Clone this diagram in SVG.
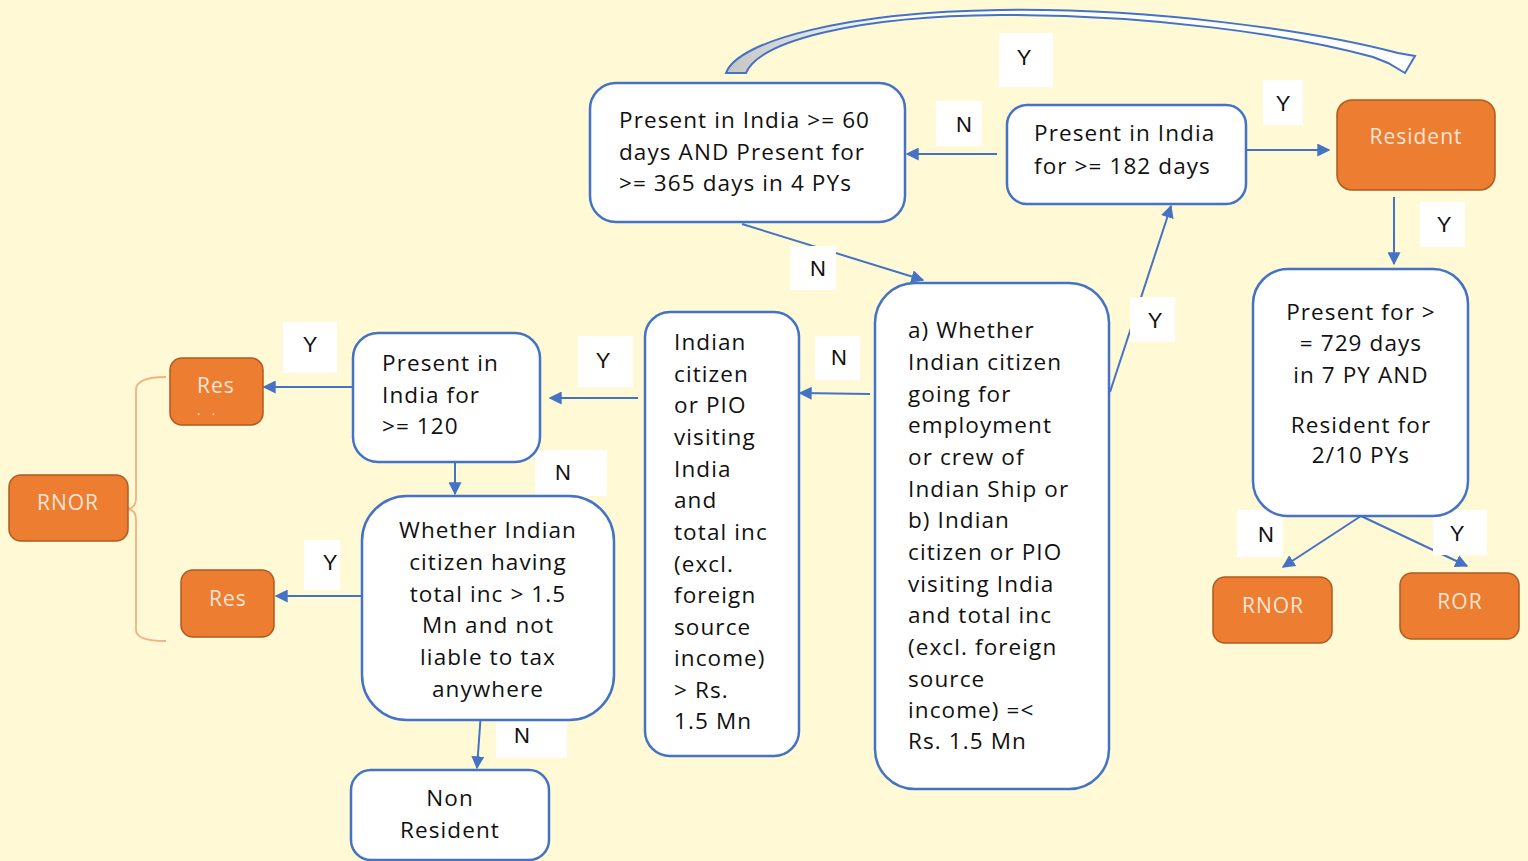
<svg xmlns="http://www.w3.org/2000/svg" width="1528" height="861" viewBox="0 0 1528 861">
<style>
.bg{fill:#FFF9D5}
.box{fill:#FFFFFF;stroke:#4472C4;stroke-width:2.5}
.org{fill:#ED7D31;stroke:#AE5A21;stroke-width:1.5}
.t{font-family:"Open Sans","DejaVu Sans",sans-serif;font-size:22.5px;letter-spacing:1.1px;fill:#111111}
.c{text-anchor:middle}
.ot{font-family:"Open Sans","DejaVu Sans",sans-serif;font-size:21px;letter-spacing:1px;fill:#FBE5D6;text-anchor:middle}
.lb{fill:#FFFFFF}
.lt{font-family:"Liberation Sans",Arial,sans-serif;font-size:22px;fill:#111;text-anchor:middle}
.cn{fill:none;stroke:#4472C4;stroke-width:2;marker-end:url(#ah)}
</style>
<defs>
<marker id="ah" viewBox="0 0 10 10" refX="9" refY="5" markerWidth="6.5" markerHeight="6.5" markerUnits="strokeWidth" orient="auto">
<path d="M0,0 L10,5 L0,10 z" fill="#4472C4"/>
</marker>
<linearGradient id="cg" x1="726" y1="0" x2="1416" y2="0" gradientUnits="userSpaceOnUse">
<stop offset="0" stop-color="#C4C4C4"/>
<stop offset="0.25" stop-color="#FFFFFF"/>
<stop offset="1" stop-color="#FFFFFF"/>
</linearGradient>
</defs>
<rect class="bg" x="0" y="0" width="1528" height="861"/>

<g id="connectors">
<path d="M726,73 C738,40 850,12 1000,10 C1150,8 1310,30 1398,53 L1415,56 L1405,73 L1388,63 L1373,57 C1290,34 1150,15 1000,15 C860,16 760,40 746,73 Z" fill="url(#cg)" stroke="#4472C4" stroke-width="2" stroke-linejoin="miter"/>
<line class="cn" x1="997" y1="154" x2="907" y2="154"/>
<line class="cn" x1="1238" y1="150" x2="1329" y2="150"/>
<line class="cn" x1="1394" y1="197" x2="1394" y2="264"/>
<line class="cn" x1="742" y1="224" x2="923" y2="280"/>
<line class="cn" x1="1110" y1="392" x2="1171" y2="206"/>
<line class="cn" x1="870" y1="394" x2="800" y2="393"/>
<line class="cn" x1="638" y1="398" x2="550" y2="398"/>
<line class="cn" x1="352" y1="387" x2="264" y2="387"/>
<line class="cn" x1="455" y1="455" x2="455" y2="494"/>
<line class="cn" x1="361" y1="596" x2="276" y2="596"/>
<line class="cn" x1="481" y1="712" x2="477" y2="768"/>
<line class="cn" x1="1361" y1="516" x2="1283" y2="567"/>
<line class="cn" x1="1361" y1="516" x2="1467" y2="566"/>
<path d="M166,377 Q136,377 136,390 L136,498 Q136,508 128,509 Q136,510 136,520 L136,630 Q136,641 166,641" fill="none" stroke="#F4B183" stroke-width="1.8"/>
</g>

<g id="labels">
<rect class="lb" x="999" y="33" width="54" height="54"/><text class="lt" x="1024" y="65">Y</text>
<rect class="lb" x="1263" y="80" width="40" height="45"/><text class="lt" x="1283" y="111">Y</text>
<rect class="lb" x="936" y="101" width="46" height="45"/><text class="lt" x="964" y="132">N</text>
<rect class="lb" x="1420" y="202" width="45" height="45"/><text class="lt" x="1444" y="232">Y</text>
<rect class="lb" x="790" y="246" width="46" height="44"/><text class="lt" x="818" y="276">N</text>
<rect class="lb" x="1130" y="297" width="45" height="45"/><text class="lt" x="1155" y="328">Y</text>
<rect class="lb" x="815" y="336" width="45" height="44"/><text class="lt" x="839" y="365">N</text>
<rect class="lb" x="578" y="336" width="55" height="51"/><text class="lt" x="603" y="368">Y</text>
<rect class="lb" x="283" y="322" width="54" height="51"/><text class="lt" x="310" y="352">Y</text>
<rect class="lb" x="535" y="450" width="72" height="46"/><text class="lt" x="563" y="480">N</text>
<rect class="lb" x="304" y="540" width="36" height="50"/><text class="lt" x="330" y="570">Y</text>
<rect class="lb" x="496" y="712" width="71" height="46"/><text class="lt" x="522" y="743">N</text>
<rect class="lb" x="1237" y="510" width="46" height="47"/><text class="lt" x="1266" y="542">N</text>
<rect class="lb" x="1433" y="510" width="54" height="45"/><text class="lt" x="1457" y="541">Y</text>
</g>

<g id="n60">
<rect class="box" x="590" y="83" width="315" height="139" rx="26"/>
<text class="t" x="619" y="128">Present in India &gt;= 60</text>
<text class="t" x="619" y="160">days AND Present for</text>
<text class="t" x="619" y="191">&gt;= 365 days in 4 PYs</text>
</g>

<g id="n182">
<rect class="box" x="1007" y="105" width="239" height="99" rx="20"/>
<text class="t" x="1034" y="141">Present in India</text>
<text class="t" x="1034" y="174">for &gt;= 182 days</text>
</g>

<g id="resident">
<rect class="org" x="1337" y="100" width="158" height="90" rx="15"/>
<text class="ot" x="1416" y="144">Resident</text>
</g>

<g id="n729">
<rect class="box" x="1253" y="269" width="215" height="247" rx="35"/>
<text class="t c" x="1361" y="320">Present for &gt;</text>
<text class="t c" x="1361" y="351">= 729 days</text>
<text class="t c" x="1361" y="383">in 7 PY AND</text>
<text class="t c" x="1361" y="433">Resident for</text>
<text class="t c" x="1361" y="463">2/10 PYs</text>
</g>

<g id="rnor2">
<rect class="org" x="1213" y="577" width="119" height="66" rx="12"/>
<text class="ot" x="1273" y="613">RNOR</text>
</g>

<g id="ror">
<rect class="org" x="1400" y="573" width="119" height="66" rx="12"/>
<text class="ot" x="1460" y="609">ROR</text>
</g>

<g id="nD">
<rect class="box" x="875" y="283" width="234" height="506" rx="40"/>
<text class="t" x="908" y="338">a) Whether</text>
<text class="t" x="908" y="370">Indian citizen</text>
<text class="t" x="908" y="402">going for</text>
<text class="t" x="908" y="433">employment</text>
<text class="t" x="908" y="465">or crew of</text>
<text class="t" x="908" y="497">Indian Ship or</text>
<text class="t" x="908" y="528">b) Indian</text>
<text class="t" x="908" y="560">citizen or PIO</text>
<text class="t" x="908" y="592">visiting India</text>
<text class="t" x="908" y="623">and total inc</text>
<text class="t" x="908" y="655">(excl. foreign</text>
<text class="t" x="908" y="687">source</text>
<text class="t" x="908" y="718">income) =&lt;</text>
<text class="t" x="908" y="749">Rs. 1.5 Mn</text>
</g>

<g id="nE">
<rect class="box" x="645" y="312" width="154" height="444" rx="25"/>
<text class="t" x="674" y="350">Indian</text>
<text class="t" x="674" y="382">citizen</text>
<text class="t" x="674" y="413">or PIO</text>
<text class="t" x="674" y="445">visiting</text>
<text class="t" x="674" y="477">India</text>
<text class="t" x="674" y="508">and</text>
<text class="t" x="674" y="540">total inc</text>
<text class="t" x="674" y="572">(excl.</text>
<text class="t" x="674" y="603">foreign</text>
<text class="t" x="674" y="635">source</text>
<text class="t" x="674" y="666">income)</text>
<text class="t" x="674" y="698">&gt; Rs.</text>
<text class="t" x="674" y="729">1.5 Mn</text>
</g>

<g id="n120">
<rect class="box" x="353" y="333" width="187" height="129" rx="25"/>
<text class="t" x="382" y="371">Present in</text>
<text class="t" x="382" y="403">India for</text>
<text class="t" x="382" y="434">&gt;= 120</text>
</g>

<g id="nG">
<rect class="box" x="362" y="496" width="252" height="224" rx="45"/>
<text class="t c" x="488" y="538">Whether Indian</text>
<text class="t c" x="488" y="570">citizen having</text>
<text class="t c" x="488" y="602">total inc &gt; 1.5</text>
<text class="t c" x="488" y="633">Mn and not</text>
<text class="t c" x="488" y="665">liable to tax</text>
<text class="t c" x="488" y="697">anywhere</text>
</g>

<g id="nonres">
<rect class="box" x="351" y="770" width="198" height="90" rx="20"/>
<text class="t c" x="450" y="806">Non</text>
<text class="t c" x="450" y="838">Resident</text>
</g>

<g id="res1">
<rect class="org" x="170" y="358" width="93" height="67" rx="12"/>
<text class="ot" x="216" y="393">Res</text>
<text class="ot" x="208" y="415" style="font-size:13px;letter-spacing:4px">. .</text>
</g>

<g id="res2">
<rect class="org" x="181" y="570" width="93" height="67" rx="12"/>
<text class="ot" x="228" y="606">Res</text>
</g>

<g id="rnor1">
<rect class="org" x="9" y="475" width="119" height="66" rx="12"/>
<text class="ot" x="68" y="510">RNOR</text>
</g>
</svg>
